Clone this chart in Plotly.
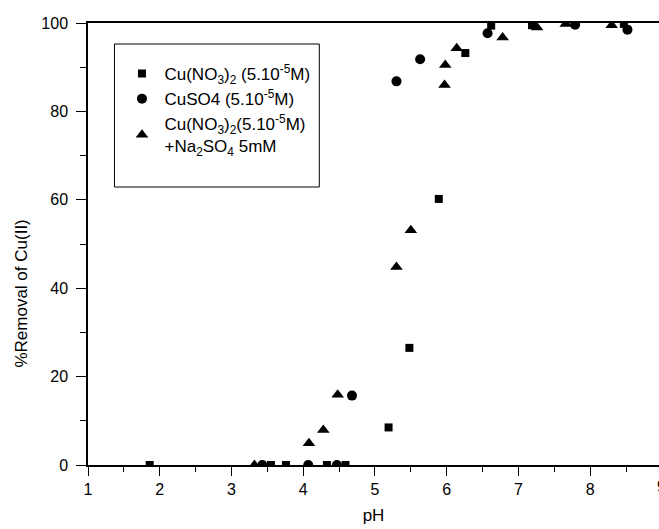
import plotly.graph_objects as go

# Data
sq_ph = [1.86, 3.55, 3.76, 4.33, 4.59, 5.19, 5.48, 5.89, 6.26, 6.62, 7.19, 8.47]
sq_val = [0, 0, 0, 0, 0, 8.5, 26.5, 60.2, 93.2, 99.4, 99.5, 99.8]

circ_ph = [3.43, 4.07, 4.47, 4.68, 5.30, 5.63, 6.57, 7.79, 8.52]
circ_val = [0, 0, 0, 15.7, 86.8, 91.8, 97.7, 99.6, 98.5]

tri_ph = [3.32, 4.08, 4.28, 4.48, 5.30, 5.50, 5.97, 5.98, 6.14, 6.78, 7.26, 7.66, 8.30]
tri_val = [0, 4.9, 7.9, 15.9, 44.8, 53.1, 86.0, 90.5, 94.3, 96.7, 99.0, 99.8, 99.5]

names = [
    "Cu(NO<sub>3</sub>)<sub>2</sub> (5.10<sup>-5</sup>M)",
    "CuSO4 (5.10<sup>-5</sup>M)",
    "Cu(NO<sub>3</sub>)<sub>2</sub>(5.10<sup>-5</sup>M)<br>+Na<sub>2</sub>SO<sub>4</sub> 5mM",
]

FONT = "Liberation Sans, Arial, Helvetica, sans-serif"

fig = go.Figure()
fig.add_trace(go.Scatter(x=sq_ph, y=sq_val, mode="markers", name=names[0],
                         legendgroup="a",
                         marker=dict(symbol="square", size=8, color="black")))
fig.add_trace(go.Scatter(x=circ_ph, y=circ_val, mode="markers", name=names[1],
                         legendgroup="b",
                         marker=dict(symbol="circle", size=10, color="black")))
fig.add_trace(go.Scatter(x=tri_ph, y=tri_val, mode="markers", name=names[2],
                         legendgroup="c",
                         marker=dict(symbol="triangle-up", size=11, color="black")))

W, H = 659, 529
L, T, B, R = 87.5, 23, 64, 0
pw = W - L - R
ph = H - T - B

def px(xp):
    return (xp - L) / pw

def py(yp):
    return 1 - (yp - T) / ph

fig.update_layout(
    width=W, height=H,
    margin=dict(l=L, r=R, t=T, b=B, pad=0),
    paper_bgcolor="white", plot_bgcolor="white",
    font=dict(family=FONT, size=16, color="black"),
    showlegend=True,
    legend=dict(x=px(119), y=py(56), xanchor="left", yanchor="top",
                bgcolor="rgba(0,0,0,0)", borderwidth=0, itemwidth=35,
                font=dict(family=FONT, size=17, color="black"),
                tracegroupgap=0),
    xaxis=dict(range=[1, 1 + pw / 71.8], showgrid=False, zeroline=False,
               showline=True, linecolor="black", linewidth=1.5, mirror=True,
               ticks="outside", ticklen=9, tickwidth=1.2, tickcolor="black",
               tick0=1, dtick=1,
               minor=dict(ticks="outside", ticklen=5, tickwidth=1.2,
                          tickcolor="black", dtick=0.5, tick0=1),
               title=dict(text="pH", font=dict(size=17), standoff=12),
               tickfont=dict(size=16)),
    yaxis=dict(range=[0, 100], showgrid=False, zeroline=False,
               showline=True, linecolor="black", linewidth=1.5, mirror=False,
               ticks="outside", ticklen=10, tickwidth=1.2, tickcolor="black",
               tick0=0, dtick=20, ticklabelstandoff=5,
               minor=dict(ticks="outside", ticklen=6, tickwidth=1.2,
                          tickcolor="black", dtick=10, tick0=0),
               tickfont=dict(size=16)),
    shapes=[dict(type="rect", xref="paper", yref="paper",
                 x0=px(114), x1=px(319), y0=py(187), y1=py(44),
                 line=dict(color="black", width=1), fillcolor="rgba(0,0,0,0)")],
    annotations=[
        dict(text="9", xref="paper", yref="paper", x=px(662), y=0,
             xanchor="center", yanchor="top", yshift=-11,
             showarrow=False, font=dict(size=16)),
        dict(text="%Removal of Cu(II)", xref="paper", yref="paper",
             x=px(20), y=py(294), xanchor="center", yanchor="middle",
             textangle=-90, showarrow=False, font=dict(size=17)),
    ],
)

fig.write_html("out.html")
